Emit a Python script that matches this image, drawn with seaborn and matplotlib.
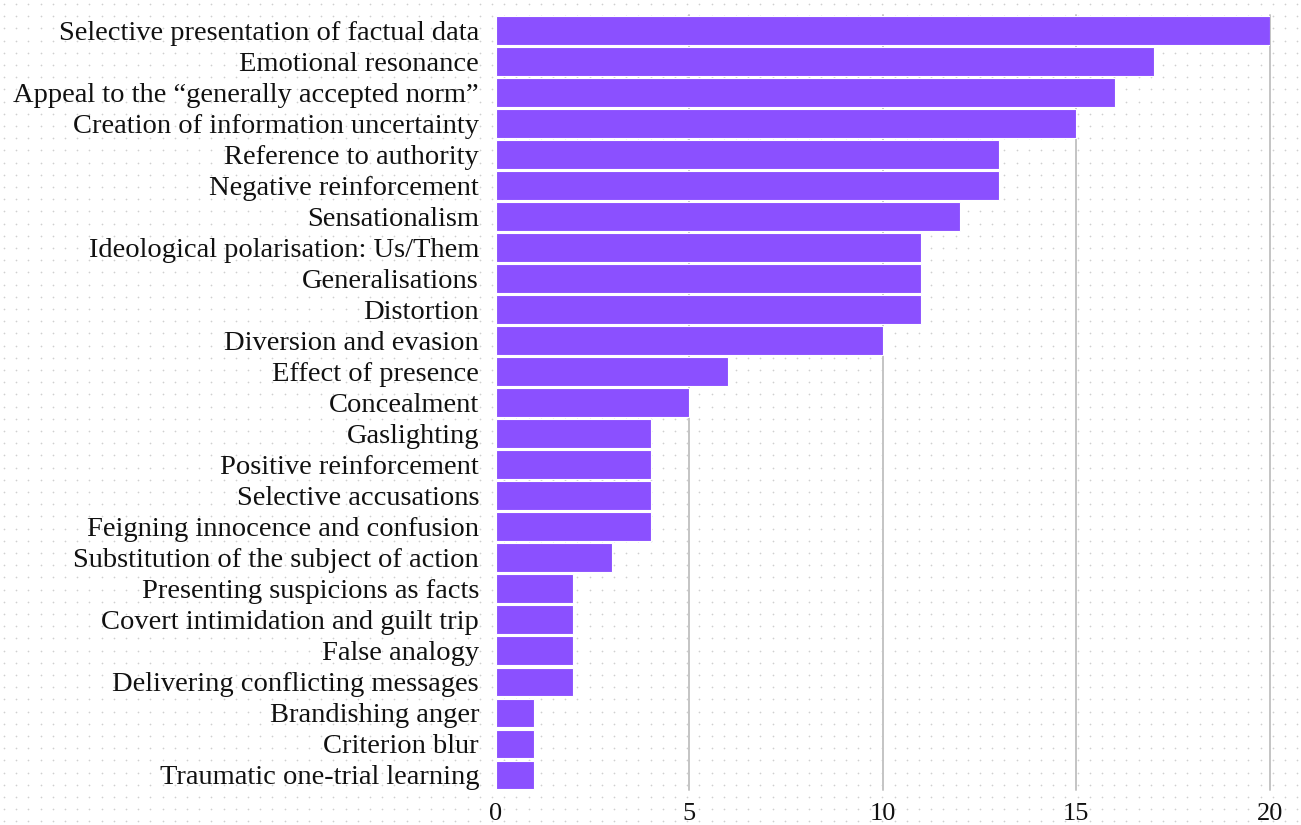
import numpy as np
import pandas as pd
import seaborn as sns
import matplotlib.pyplot as plt

# Manipulation techniques and how often each was found
techniques = [
    "Selective presentation of factual data",
    "Emotional resonance",
    "Appeal to the \u201cgenerally accepted norm\u201d",
    "Creation of information uncertainty",
    "Reference to authority",
    "Negative reinforcement",
    "Sensationalism",
    "Ideological polarisation: Us/Them",
    "Generalisations",
    "Distortion",
    "Diversion and evasion",
    "Effect of presence",
    "Concealment",
    "Gaslighting",
    "Positive reinforcement",
    "Selective accusations",
    "Feigning innocence and confusion",
    "Substitution of the subject of action",
    "Presenting suspicions as facts",
    "Covert intimidation and guilt trip",
    "False analogy",
    "Delivering conflicting messages",
    "Brandishing anger",
    "Criterion blur",
    "Traumatic one-trial learning",
]
counts = [20, 17, 16, 15, 13, 13, 12, 11, 11, 11, 10, 6, 5, 4, 4, 4, 4, 3, 2, 2, 2, 2, 1, 1, 1]
x_ticks = [0, 5, 10, 15, 20]

df = pd.DataFrame({"Technique": techniques, "Count": counts})

sns.set_style("white")
plt.rcParams["font.family"] = ["Liberation Serif", "DejaVu Serif"]

fig = plt.figure(figsize=(13.01, 8.25), dpi=100)

# dotted paper background over the whole figure
bg = fig.add_axes([0, 0, 1, 1], zorder=-10)
gx, gy = np.meshgrid(np.arange(4, 1301, 12.2), np.arange(4, 825, 12.2))
bg.scatter(gx.ravel(), gy.ravel(), s=1.5, color="#cfcfcf", linewidths=0)
bg.set_xlim(0, 1301)
bg.set_ylim(825, 0)
bg.axis("off")

ax = fig.add_axes([0.381, 0.042, 0.595, 0.940])
ax.patch.set_alpha(0)
sns.barplot(data=df, y="Technique", x="Count", color="#8b50ff", saturation=1,
            width=0.92, edgecolor="white", linewidth=0.8, ax=ax, zorder=3)

ax.set_xlim(0, 20)
ax.set_ylim(len(techniques) - 0.5, -0.5)
ax.set_xticks(x_ticks)
for v in x_ticks[1:]:
    ax.axvline(v, color="#c4c4c4", linewidth=1.4, zorder=1, clip_on=False)

ax.set_xlabel("")
ax.set_ylabel("")
ax.tick_params(axis="y", length=0, labelsize=20.5, colors="#111111", pad=12)
ax.tick_params(axis="x", length=0, labelsize=19, colors="#111111", pad=9)
for s in ax.spines.values():
    s.set_visible(False)

fig.savefig("out.png", dpi=100)
